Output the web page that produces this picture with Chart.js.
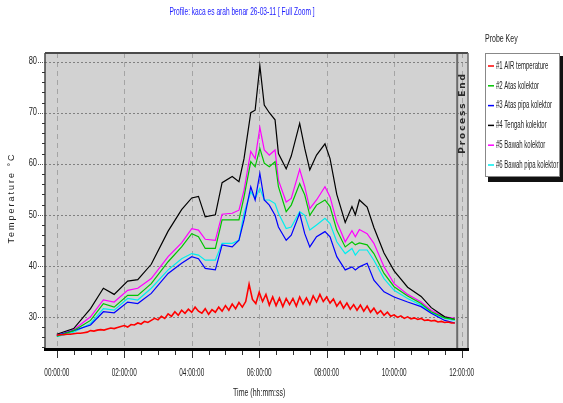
<!DOCTYPE html>
<html><head><meta charset="utf-8">
<script src="https://cdn.jsdelivr.net/npm/chart.js@4.4.1/dist/chart.umd.min.js"></script>
<style>html,body{margin:0;padding:0;background:#fff;}#wrap{width:563px;height:403px;}</style>
</head><body><div id="wrap"><canvas id="c" width="563" height="403"></canvas></div>
<script>
const chartTitle = 'Profile: kaca es arah benar 26-03-11 [ Full Zoom ]';
const legendTitle = 'Probe Key';
const xAxisTitle = 'Time (hh:mm:ss)';
const yAxisTitle = 'Temperature °C';
const processEndLabel = 'Process End';
const processEndHour = 11.87;
const probeLabels = ['#1 AIR temperature', '#2 Atas kolektor', '#3 Atas pipa kolektor', '#4 Tengah kolektor', '#5 Bawah kolektor', '#6 Bawah pipa kolektor'];
const probeColors = ['#ff0000', '#00c400', '#0000ff', '#000000', '#ff00ff', '#00eeee'];
const xTickHours = [0, 2, 4, 6, 8, 10, 12];
const xTickLabels = ['00:00:00', '02:00:00', '04:00:00', '06:00:00', '08:00:00', '10:00:00', '12:00:00'];
const xMinorHours = [0.5, 1, 1.5, 2.5, 3, 3.5, 4.5, 5, 5.5, 6.5, 7, 7.5, 8.5, 9, 9.5, 10.5, 11, 11.5];
const yTickValues = [30, 40, 50, 60, 70, 80];
const yMinorValues = [24, 26, 28, 32, 34, 36, 38, 42, 44, 46, 48, 52, 54, 56, 58, 62, 64, 66, 68, 72, 74, 76, 78];

// time grid (hours) for probes #2..#6
const probeHours = [0, 0.5, 1.0, 1.38, 1.7, 2.1, 2.4, 2.8, 3.3, 3.7, 4.0, 4.2, 4.4, 4.7, 4.9, 5.2, 5.4, 5.55, 5.75, 5.88, 6.02, 6.15, 6.3, 6.47, 6.57, 6.8, 6.95, 7.2, 7.35, 7.5, 7.7, 7.95, 8.1, 8.3, 8.55, 8.75, 8.85, 8.97, 9.2, 9.4, 9.7, 10.0, 10.4, 10.8, 11.1, 11.5, 11.8];
const atasKolektor = [26.2, 27.3, 29.3, 32.6, 31.9, 34.2, 34.2, 36.5, 40.8, 43.7, 46.3, 45.7, 43.4, 43.4, 49.0, 49.0, 49.0, 53.5, 60.4, 59.4, 63.0, 60.1, 59.4, 60.4, 55.5, 50.6, 51.9, 56.1, 53.9, 49.9, 51.9, 52.9, 51.6, 47.0, 43.7, 44.7, 44.1, 44.5, 44.1, 42.4, 38.5, 35.9, 34.1, 32.6, 31.0, 29.8, 29.5];
const atasPipaKolektor = [26.4, 27.3, 28.4, 31.0, 30.8, 32.9, 32.6, 34.6, 38.5, 40.5, 41.8, 41.4, 39.5, 39.2, 44.1, 43.7, 45.0, 49.0, 55.5, 52.9, 58.1, 52.9, 51.9, 49.9, 47.6, 45.0, 46.0, 50.3, 46.3, 43.7, 45.7, 46.7, 45.7, 41.8, 39.2, 39.8, 39.2, 39.8, 40.5, 37.2, 34.9, 33.9, 32.9, 32.0, 30.7, 29.3, 28.8];
const tengahKolektor = [26.6, 27.7, 31.6, 35.6, 34.4, 37.0, 37.3, 40.3, 46.8, 51.0, 53.3, 53.6, 49.6, 50.0, 56.3, 57.5, 56.5, 61.0, 70.0, 70.5, 79.2, 71.5, 70.0, 68.6, 62.0, 59.0, 61.5, 67.9, 63.0, 58.8, 61.7, 63.9, 61.0, 54.0, 48.5, 51.6, 50.0, 52.9, 51.5, 47.5, 42.5, 39.0, 35.8, 34.0, 31.8, 30.0, 29.5];
const bawahKolektor = [26.3, 27.5, 30.0, 33.3, 32.9, 35.2, 35.6, 37.5, 41.8, 44.5, 47.3, 47.0, 45.2, 45.0, 50.1, 50.3, 50.9, 54.8, 62.4, 61.0, 67.1, 62.7, 61.7, 62.7, 56.8, 52.5, 53.2, 58.9, 55.5, 51.2, 52.9, 55.5, 53.5, 48.6, 44.7, 46.9, 45.7, 47.1, 46.3, 44.4, 39.8, 36.5, 34.4, 32.9, 31.3, 30.0, 29.7];
const bawahPipaKolektor = [26.1, 27.0, 28.7, 31.6, 31.3, 33.6, 33.3, 35.6, 39.2, 41.4, 42.4, 42.1, 41.1, 41.1, 44.4, 44.4, 45.0, 50.3, 54.5, 53.2, 55.2, 52.9, 52.9, 52.2, 50.3, 47.3, 47.6, 50.6, 49.9, 47.0, 48.0, 49.3, 48.3, 44.7, 42.4, 43.4, 42.1, 43.1, 43.1, 41.1, 37.5, 35.2, 33.6, 32.3, 30.8, 29.7, 29.3];

// time grid (hours) for probe #1 (air)
const airHours = [0.0, 0.1, 0.2, 0.3, 0.4, 0.5, 0.6, 0.7, 0.8, 0.9,
  1.0, 1.1, 1.2, 1.3, 1.4, 1.5, 1.6, 1.7, 1.8, 1.9,
  2.0, 2.1, 2.2, 2.3, 2.4, 2.5, 2.6, 2.7, 2.8, 2.9,
  3.0, 3.1, 3.2, 3.3, 3.4, 3.5, 3.6, 3.7, 3.8, 3.9,
  4.0, 4.1, 4.2, 4.3, 4.4, 4.5, 4.6, 4.7, 4.8, 4.9,
  5.0, 5.1, 5.2, 5.3, 5.4, 5.5, 5.6, 5.7, 5.8, 5.9,
  6.0, 6.1, 6.2, 6.3, 6.4, 6.5, 6.6, 6.7, 6.8, 6.9,
  7.0, 7.1, 7.2, 7.3, 7.4, 7.5, 7.6, 7.7, 7.8, 7.9,
  8.0, 8.1, 8.2, 8.3, 8.4, 8.5, 8.6, 8.7, 8.8, 8.9,
  9.0, 9.1, 9.2, 9.3, 9.4, 9.5, 9.6, 9.7, 9.8, 9.9,
  10.0, 10.1, 10.2, 10.3, 10.4, 10.5, 10.6, 10.7, 10.8, 10.9,
  11.0, 11.1, 11.2, 11.3, 11.4, 11.5, 11.6, 11.7, 11.8];
const airTemperature = [26.4, 26.5, 26.5, 26.6, 26.6, 26.7, 26.8, 26.8, 26.9, 27.0,
  27.3, 27.2, 27.4, 27.5, 27.4, 27.6, 27.8, 27.7, 27.9, 28.1,
  28.3, 28.0, 28.5, 28.4, 28.8, 28.6, 29.1, 28.9, 29.3, 29.7,
  29.4, 30.1, 29.7, 30.6, 30.1, 31.0, 30.3, 31.3, 30.7, 31.5,
  30.9, 31.9, 31.1, 30.7, 31.6, 30.5, 31.4, 30.9, 31.9, 31.1,
  32.2, 31.3, 32.5, 31.6, 32.8, 31.9, 33.0, 36.4, 33.4, 32.6,
  34.8, 33.0, 34.4, 32.3, 33.9, 32.2, 33.7, 32.0, 33.6, 32.4,
  33.6, 32.1, 33.9, 32.5, 33.7, 32.4, 34.1, 32.9, 34.4, 33.0,
  33.9, 32.7, 33.5, 32.1, 33.0, 31.7, 32.7, 31.5, 32.4, 31.3,
  32.3, 31.1, 32.1, 30.9, 31.7, 30.6, 31.2, 30.3, 30.9, 30.1,
  30.4, 29.9, 30.2, 29.7, 30.0, 29.6, 29.8, 29.5, 29.7, 29.3,
  29.4, 29.2, 29.3, 29.0, 29.1, 28.9, 29.0, 28.8, 28.8];

const seriesValues = [airTemperature, atasKolektor, atasPipaKolektor, tengahKolektor, bawahKolektor, bawahPipaKolektor];
const seriesHours = [airHours, probeHours, probeHours, probeHours, probeHours, probeHours];

const NARROW = "'Liberation Sans Narrow', 'Liberation Sans', Arial, sans-serif";

function drawText(ctx, s, x, y, opt) {
  ctx.save();
  ctx.font = opt.font;
  ctx.fillStyle = opt.color || '#000';
  ctx.textAlign = opt.align || 'center';
  ctx.textBaseline = opt.baseline || 'middle';
  if (opt.spacing) ctx.letterSpacing = opt.spacing;
  ctx.translate(x, y);
  if (opt.rot) ctx.rotate(opt.rot);
  ctx.scale(opt.sx || 1, 1);
  ctx.fillText(s, 0, 0);
  ctx.restore();
}

const framePlugin = {
  id: 'frame',
  beforeDatasetsDraw(chart) {
    const ctx = chart.ctx, a = chart.chartArea, xs = chart.scales.x, ys = chart.scales.y;
    ctx.save();
    ctx.fillStyle = '#d2d2d2';
    ctx.fillRect(a.left, a.top, a.right - a.left, a.bottom - a.top);
    ctx.strokeStyle = '#a4a4a4';
    ctx.lineWidth = 1;
    ctx.setLineDash([5, 4]);
    xTickHours.forEach(h => {
      const x = Math.round(xs.getPixelForValue(h)) + 0.5;
      ctx.beginPath(); ctx.moveTo(x, a.top); ctx.lineTo(x, a.bottom); ctx.stroke();
    });
    ctx.strokeStyle = '#808080';
    ctx.setLineDash([2, 2]);
    yTickValues.forEach(v => {
      const y = Math.round(ys.getPixelForValue(v)) + 0.5;
      ctx.beginPath(); ctx.moveTo(a.left, y); ctx.lineTo(a.right, y); ctx.stroke();
    });
    ctx.restore();
  },
  afterDatasetsDraw(chart) {
    const ctx = chart.ctx, a = chart.chartArea, xs = chart.scales.x, ys = chart.scales.y;
    ctx.save();
    const pe = xs.getPixelForValue(processEndHour);
    ctx.strokeStyle = '#6a6a6a';
    ctx.lineWidth = 2;
    ctx.beginPath(); ctx.moveTo(pe, a.top); ctx.lineTo(pe, a.bottom); ctx.stroke();
    drawText(ctx, processEndLabel, pe + 5, 113, {font: "bold 9px 'DejaVu Sans', sans-serif", color: '#2a2a2a', rot: -Math.PI / 2, spacing: '1.8px', sx: 1});
    ctx.strokeStyle = '#4a4a4a'; ctx.lineWidth = 2;
    ctx.beginPath(); ctx.moveTo(a.left, a.top); ctx.lineTo(a.right, a.top); ctx.stroke();
    ctx.strokeStyle = '#444'; ctx.lineWidth = 1.5;
    ctx.beginPath(); ctx.moveTo(a.left, a.top); ctx.lineTo(a.left, a.bottom); ctx.stroke();
    ctx.strokeStyle = '#6a6a6a'; ctx.lineWidth = 1.5;
    ctx.beginPath(); ctx.moveTo(a.right, a.top); ctx.lineTo(a.right, a.bottom); ctx.stroke();
    ctx.strokeStyle = '#000'; ctx.lineWidth = 3;
    ctx.beginPath(); ctx.moveTo(a.left - 1, a.bottom + 0.5); ctx.lineTo(a.right + 1, a.bottom + 0.5); ctx.stroke();
    ctx.lineWidth = 1;
    ctx.strokeStyle = '#555';
    ctx.setLineDash([1, 1]);
    yTickValues.forEach(v => {
      const y = Math.round(ys.getPixelForValue(v)) + 0.5;
      ctx.beginPath(); ctx.moveTo(a.left - 7, y); ctx.lineTo(a.left, y); ctx.stroke();
    });
    ctx.setLineDash([]);
    ctx.strokeStyle = '#333';
    yMinorValues.forEach(v => {
      const y = Math.round(ys.getPixelForValue(v)) + 0.5;
      ctx.beginPath(); ctx.moveTo(a.left - 3, y); ctx.lineTo(a.left, y); ctx.stroke();
    });
    yTickValues.forEach(v => {
      drawText(ctx, String(v), a.left - 8, ys.getPixelForValue(v), {font: '10px ' + NARROW, color: '#222', align: 'right', sx: 0.75});
    });
    ctx.strokeStyle = '#333';
    xTickHours.forEach(h => {
      const x = Math.round(xs.getPixelForValue(h)) + 0.5;
      ctx.beginPath(); ctx.moveTo(x, a.bottom + 2); ctx.lineTo(x, a.bottom + 9); ctx.stroke();
    });
    xMinorHours.forEach(h => {
      const x = Math.round(xs.getPixelForValue(h)) + 0.5;
      ctx.beginPath(); ctx.moveTo(x, a.bottom + 2); ctx.lineTo(x, a.bottom + 6); ctx.stroke();
    });
    xTickLabels.forEach((lab, i) => {
      drawText(ctx, lab, xs.getPixelForValue(xTickHours[i]), a.bottom + 24, {font: '10px ' + NARROW, color: '#222', sx: 0.64});
    });
    drawText(ctx, xAxisTitle, xs.getPixelForValue(6), a.bottom + 44, {font: '10px ' + NARROW, color: '#222', sx: 0.7});
    drawText(ctx, yAxisTitle, 12, 198, {font: "9px 'Liberation Sans', Arial, sans-serif", color: '#222', rot: -Math.PI / 2, spacing: '2px'});
    drawText(ctx, chartTitle, 242, 12, {font: '10px ' + NARROW, color: '#2020ff', sx: 0.66});
    drawText(ctx, legendTitle, 485, 39, {font: '10px ' + NARROW, color: '#222', align: 'left', sx: 0.7});
    const lx = 485, ly = 53, lw = 75, lh = 124;
    ctx.fillStyle = '#111';
    ctx.fillRect(lx + 3, ly + 3, lw, lh + 2);
    ctx.fillStyle = '#fff';
    ctx.fillRect(lx, ly, lw, lh);
    ctx.strokeStyle = '#888'; ctx.lineWidth = 1;
    ctx.strokeRect(lx + 0.5, ly + 0.5, lw - 1, lh - 1);
    chart.data.datasets.forEach((ds, i) => {
      const y = 66 + i * 19.8;
      ctx.strokeStyle = ds.borderColor; ctx.lineWidth = 1.5;
      ctx.beginPath(); ctx.moveTo(lx + 3, y); ctx.lineTo(lx + 9, y); ctx.stroke();
      drawText(ctx, ds.label, lx + 11, y, {font: '10px ' + NARROW, color: '#222', align: 'left', sx: 0.6});
    });
    ctx.restore();
  }
};

const datasets = probeLabels.map((label, i) => ({
  label: label,
  data: seriesHours[i].map((h, j) => ({x: h, y: seriesValues[i][j]})),
  borderColor: probeColors[i],
  backgroundColor: probeColors[i],
  borderWidth: i === 0 ? 1.6 : 1.2,
  pointRadius: 0,
  tension: 0,
  fill: false
}));

new Chart(document.getElementById('c'), {
  type: 'line',
  data: {datasets: datasets},
  options: {
    responsive: false,
    animation: false,
    devicePixelRatio: 1,
    layout: {padding: {left: 0, right: 95, top: 53, bottom: 0}},
    plugins: {legend: {display: false}, tooltip: {enabled: false}, title: {display: false}},
    scales: {
      x: {type: 'linear', min: -0.35, max: 12.19, grid: {display: false, drawTicks: false}, border: {display: false}, ticks: {display: false}, afterFit: s => { s.height = 54; }},
      y: {type: 'linear', min: 23.7, max: 81.7, grid: {display: false, drawTicks: false}, border: {display: false}, ticks: {display: false}, afterFit: s => { s.width = 45; }}
    }
  },
  plugins: [framePlugin]
});
</script>
</body></html>
